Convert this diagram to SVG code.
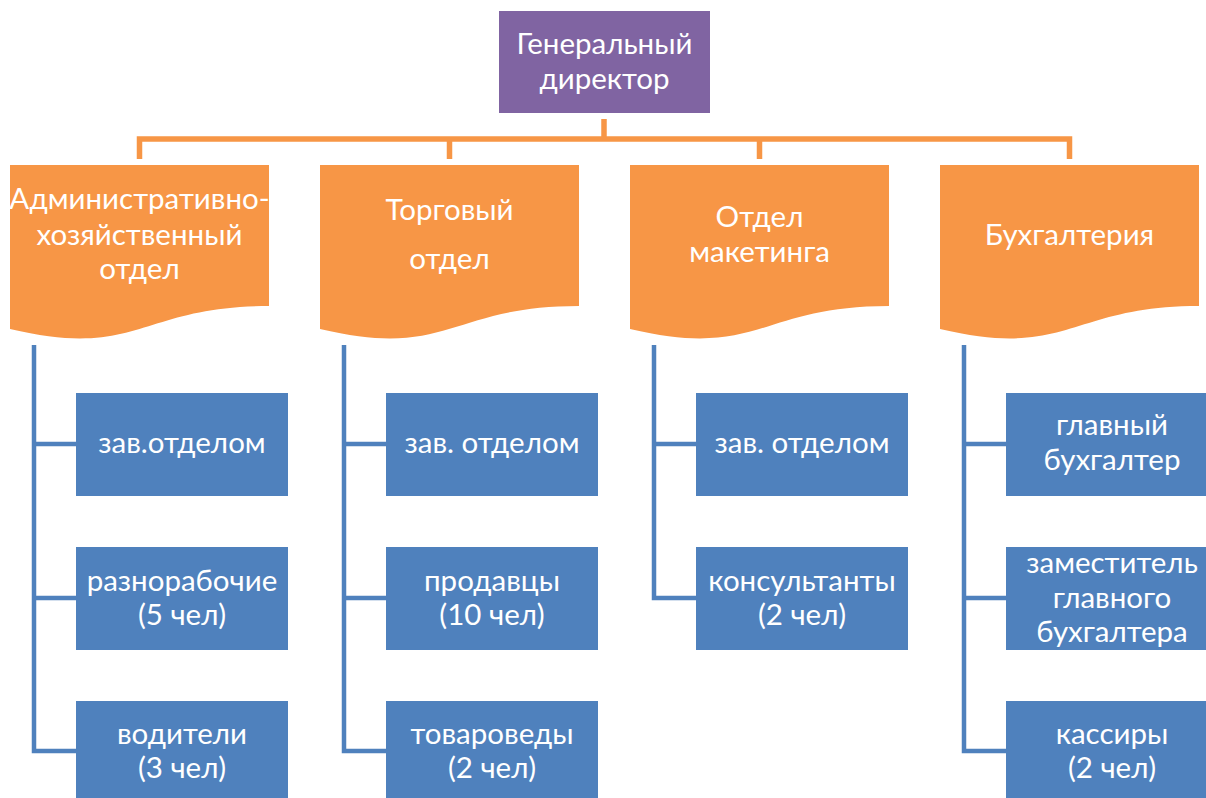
<svg xmlns="http://www.w3.org/2000/svg" width="1206" height="798" viewBox="0 0 1206 798">
<defs>
<style>
text{font-family:Lato,"Open Sans","Liberation Sans",sans-serif;fill:#fff;text-anchor:middle;font-size:29.5px}
.top{fill:#8064A2}
.dept{fill:#F79646}
.box{fill:#4F81BD}
.oc{fill:none;stroke:#F79646;stroke-width:5.5}
.bc{fill:none;stroke:#4F81BD;stroke-width:4.5}
</style>
<path id="doc" d="M0,0 H259 V141 C129.5,141 129.5,194.5 0,164 Z"/>
</defs>
<rect width="1206" height="798" fill="#fff"/>
<g id="connectors">
<path class="oc" d="M604,119 V139"/>
<path class="oc" d="M139.5,159 V139 H1069.5 V159 M449.5,139 V159 M759.5,139 V159"/>
<path class="bc" d="M34,345 V751 H76 M34,444 H76 M34,598 H76"/>
<path class="bc" d="M344,345 V751 H386 M344,444 H386 M344,598 H386"/>
<path class="bc" d="M654,345 V598 H696 M654,444 H696"/>
<path class="bc" d="M964,345 V751 H1006 M964,444 H1006 M964,598 H1006"/>
</g>
<g id="gd">
<rect class="top" x="499" y="11" width="211" height="102"/>
<text x="604.5" y="54">Генеральный</text>
<text x="604.5" y="89">директор</text>
</g>
<g id="d1">
<use href="#doc" class="dept" x="10" y="165"/>
<text x="139.5" y="209">Административно-</text>
<text x="139.5" y="245">хозяйственный</text>
<text x="139.5" y="279">отдел</text>
</g>
<g id="d2">
<use href="#doc" class="dept" x="320" y="165"/>
<text x="449.5" y="220">Торговый</text>
<text x="449.5" y="269">отдел</text>
</g>
<g id="d3">
<use href="#doc" class="dept" x="630" y="165"/>
<text x="759.5" y="227">Отдел</text>
<text x="759.5" y="262">макетинга</text>
</g>
<g id="d4">
<use href="#doc" class="dept" x="940" y="165"/>
<text x="1069.5" y="245">Бухгалтерия</text>
</g>
<g id="b11"><rect class="box" x="76" y="393" width="212" height="103"/><text x="182" y="453">зав.отделом</text></g>
<g id="b12"><rect class="box" x="76" y="547" width="212" height="103"/><text x="182" y="591">разнорабочие</text><text x="182" y="625">(5 чел)</text></g>
<g id="b13"><rect class="box" x="76" y="701" width="212" height="103"/><text x="182" y="744">водители</text><text x="182" y="778">(3 чел)</text></g>
<g id="b21"><rect class="box" x="386" y="393" width="212" height="103"/><text x="492" y="453">зав. отделом</text></g>
<g id="b22"><rect class="box" x="386" y="547" width="212" height="103"/><text x="492" y="591">продавцы</text><text x="492" y="625">(10 чел)</text></g>
<g id="b23"><rect class="box" x="386" y="701" width="212" height="103"/><text x="492" y="744">товароведы</text><text x="492" y="778">(2 чел)</text></g>
<g id="b31"><rect class="box" x="696" y="393" width="212" height="103"/><text x="802" y="453">зав. отделом</text></g>
<g id="b32"><rect class="box" x="696" y="547" width="212" height="103"/><text x="802" y="591">консультанты</text><text x="802" y="625">(2 чел)</text></g>
<g id="b41"><rect class="box" x="1006" y="393" width="212" height="103"/><text x="1112" y="435">главный</text><text x="1112" y="470">бухгалтер</text></g>
<g id="b42"><rect class="box" x="1006" y="547" width="212" height="103"/><text x="1112" y="573">заместитель</text><text x="1112" y="608">главного</text><text x="1112" y="642">бухгалтера</text></g>
<g id="b43"><rect class="box" x="1006" y="701" width="212" height="103"/><text x="1112" y="744">кассиры</text><text x="1112" y="778">(2 чел)</text></g>
</svg>
